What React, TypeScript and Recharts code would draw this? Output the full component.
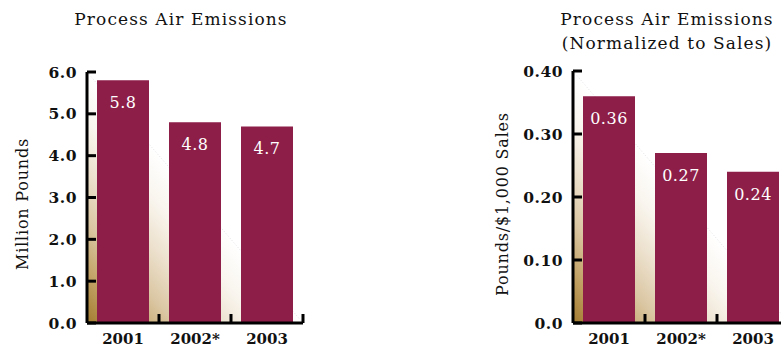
import React from 'react';
import { BarChart, Bar, XAxis, YAxis, ReferenceArea, LabelList } from 'recharts';

// Reporting years shown on both panels
const years = ['2001', '2002*', '2003'];

// Process air emissions, million pounds
const emissionsMillionLb = [5.8, 4.8, 4.7];
const emissionsTicks = [0, 1, 2, 3, 4, 5, 6];
const emissionsTickLabels = ['0.0', '1.0', '2.0', '3.0', '4.0', '5.0', '6.0'];
const emissionsValueLabels = ['5.8', '4.8', '4.7'];

// Process air emissions normalized to sales, pounds per $1,000 sales
const emissionsPerSales = [0.36, 0.27, 0.24];
const perSalesTicks = [0, 0.1, 0.2, 0.3, 0.4];
const perSalesTickLabels = ['0.0', '0.10', '0.20', '0.30', '0.40'];
const perSalesValueLabels = ['0.36', '0.27', '0.24'];

const SERIF = '"DejaVu Serif", "Liberation Serif", serif';
const BAR_COLOR = '#8d1e48';
const CHART_W = 320;
const CHART_H = 347;
const X_AXIS_H = 24;

type PanelProps = {
  id: string;
  left: number;
  titleLines: string[];
  titleCenter: number;
  yLabel: string;
  values: number[];
  valueLabels: string[];
  ticks: number[];
  tickLabels: string[];
  top: number;
  right: number;
  yAxisWidth: number;
};

const Wedge = (gradId: string) => (p: any) => {
  const { x, y, width, height } = p;
  return (
    <g>
      <defs>
        <linearGradient id={gradId} x1="0" y1="1" x2="0.5" y2="0.5">
          <stop offset="0" stopColor="#a37b30" />
          <stop offset="0.2" stopColor="#c2a265" />
          <stop offset="0.4" stopColor="#dac6a2" />
          <stop offset="0.6" stopColor="#ece0cc" />
          <stop offset="0.8" stopColor="#f9f5ee" />
          <stop offset="1" stopColor="#ffffff" />
        </linearGradient>
      </defs>
      <polygon
        points={`${x},${y} ${x},${y + height} ${x + width},${y + height}`}
        fill={`url(#${gradId})`}
      />
      <line
        x1={x}
        y1={y}
        x2={x + width}
        y2={y + height}
        stroke="#d6d6d6"
        strokeWidth={0.7}
        strokeDasharray="1 2"
      />
    </g>
  );
};

function Panel(props: PanelProps) {
  const {
    id, left, titleLines, titleCenter, yLabel, values, valueLabels,
    ticks, tickLabels, top, right, yAxisWidth,
  } = props;
  const data = years.map((year, i) => ({ year, value: values[i], label: valueLabels[i] }));
  const plotLeft = yAxisWidth;
  const plotBottom = CHART_H - X_AXIS_H;
  const band = (CHART_W - right - plotLeft) / years.length;
  const maxTick = ticks[ticks.length - 1];

  const YTick = (tp: any) => {
    const idx = ticks.indexOf(tp.payload.value);
    const ty = tp.y;
    return (
      <g>
        <line x1={plotLeft} y1={ty} x2={plotLeft + 9} y2={ty} stroke="#000" strokeWidth={3} />
        <text
          x={plotLeft - 10}
          y={ty}
          dy="0.36em"
          textAnchor="end"
          fontFamily={SERIF}
          fontWeight="bold"
          fontSize={15.5}
          letterSpacing={0.5}
          fill="#111"
        >
          {idx >= 0 ? tickLabels[idx] : ''}
        </text>
      </g>
    );
  };

  const XTick = (tp: any) => {
    const cx = tp.payload.coordinate ?? tp.x;
    const edge = cx + band / 2;
    return (
      <g>
        <line x1={edge} y1={plotBottom} x2={edge} y2={plotBottom - 9} stroke="#000" strokeWidth={3} />
        <text
          x={cx}
          y={plotBottom + 21}
          textAnchor="middle"
          fontFamily={SERIF}
          fontWeight="bold"
          fontSize={15}
          fill="#111"
        >
          {tp.payload.value}
        </text>
      </g>
    );
  };

  const ValueLabel = (lp: any) => {
    const { x, y, width, value } = lp;
    return (
      <text
        x={x + width / 2}
        y={y + 28}
        textAnchor="middle"
        fontFamily={SERIF}
        fontSize={16}
        letterSpacing={0.5}
        fill="#fff"
      >
        {value}
      </text>
    );
  };

  return (
    <div style={{ position: 'absolute', left, top: 0, width: CHART_W, height: CHART_H }}>
      <BarChart
        width={CHART_W}
        height={CHART_H}
        data={data}
        margin={{ top, right, bottom: 0, left: 0 }}
      >
        <ReferenceArea y1={0} y2={maxTick} ifOverflow="visible" shape={Wedge(`wedge-${id}`)} />
        <XAxis
          dataKey="year"
          height={X_AXIS_H}
          axisLine={{ stroke: '#000', strokeWidth: 3 }}
          tickLine={false}
          tickSize={0}
          tickMargin={0}
          interval={0}
          tick={XTick}
        />
        <YAxis
          width={yAxisWidth}
          domain={[0, maxTick]}
          ticks={ticks}
          interval={0}
          axisLine={{ stroke: '#000', strokeWidth: 3 }}
          tickLine={false}
          tickSize={0}
          tickMargin={0}
          tick={YTick}
          label={{
            content: () => (
              <text
                x={22}
                y={204}
                transform={`rotate(-90 22 204)`}
                textAnchor="middle"
                dy="0.36em"
                fontFamily={SERIF}
                fontSize={16}
                letterSpacing={0.8}
                fill="#111"
              >
                {yLabel}
              </text>
            ),
          }}
        />
        <Bar dataKey="value" fill={BAR_COLOR} barSize={52} isAnimationActive={false}>
          <LabelList dataKey="label" content={ValueLabel} />
        </Bar>
      </BarChart>
      {titleLines.map((line, i) => (
        <div
          key={line}
          style={{
            position: 'absolute',
            left: titleCenter - 150,
            width: 300,
            top: 8.5 + i * 24,
            textAlign: 'center',
            fontFamily: SERIF,
            fontSize: 17,
            letterSpacing: '1.1px',
            lineHeight: '20px',
            color: '#111',
            whiteSpace: 'nowrap',
          }}
        >
          {line}
        </div>
      ))}
    </div>
  );
}

export default function App() {
  return (
    <div
      style={{
        position: 'absolute',
        left: 0,
        top: 0,
        width: 781,
        height: 347,
        overflow: 'hidden',
        background: '#fff',
      }}
    >
      <Panel
        id="abs"
        left={0}
        titleLines={['Process Air Emissions']}
        titleCenter={181}
        yLabel="Million Pounds"
        values={emissionsMillionLb}
        valueLabels={emissionsValueLabels}
        ticks={emissionsTicks}
        tickLabels={emissionsTickLabels}
        top={72}
        right={17}
        yAxisWidth={87}
      />
      <Panel
        id="norm"
        left={480}
        titleLines={['Process Air Emissions', '(Normalized to Sales)']}
        titleCenter={187}
        yLabel="Pounds/$1,000 Sales"
        values={emissionsPerSales}
        valueLabels={perSalesValueLabels}
        ticks={perSalesTicks}
        tickLabels={perSalesTickLabels}
        top={71}
        right={11}
        yAxisWidth={93}
      />
    </div>
  );
}
